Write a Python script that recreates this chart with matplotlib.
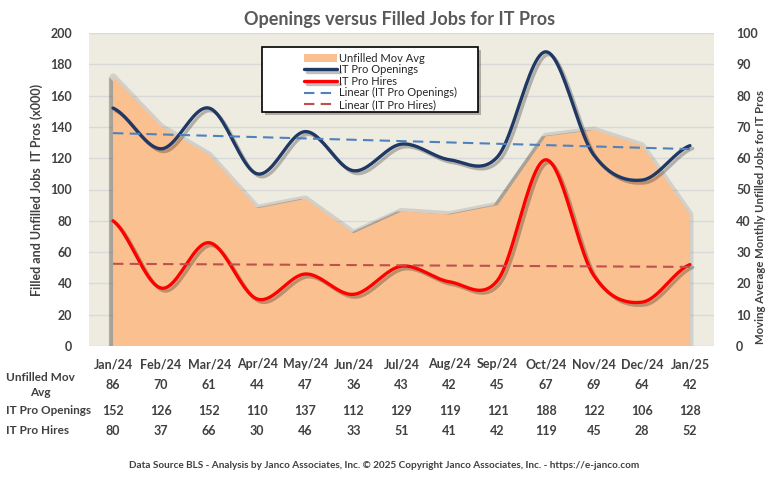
import matplotlib
matplotlib.use("Agg")
import matplotlib.pyplot as plt
import matplotlib.patheffects as pe
from matplotlib.patches import Rectangle
import numpy as np

months = ["Jan/24", "Feb/24", "Mar/24", "Apr/24", "May/24", "Jun/24", "Jul/24",
          "Aug/24", "Sep/24", "Oct/24", "Nov/24", "Dec/24", "Jan/25"]
unfilled = [86, 70, 61, 44, 47, 36, 43, 42, 45, 67, 69, 64, 42]
openings = [152, 126, 152, 110, 137, 112, 129, 119, 121, 188, 122, 106, 128]
hires = [80, 37, 66, 30, 46, 33, 51, 41, 42, 119, 45, 28, 52]

plt.rcParams['font.family'] = ['Lato', 'DejaVu Sans']
TXT = '#404040'


def smooth(y, steps=24):
    # catmull-rom curve through the points, like excel's "smoothed line"
    y = np.asarray(y, float)
    n = len(y)
    xs, ys = [], []
    for i in range(n - 1):
        p0 = y[max(i - 1, 0)]
        p1, p2 = y[i], y[i + 1]
        p3 = y[min(i + 2, n - 1)]
        t = np.linspace(0, 1, steps, endpoint=False)
        v = 0.5 * ((2 * p1) + (-p0 + p2) * t + (2 * p0 - 5 * p1 + 4 * p2 - p3) * t ** 2
                   + (-p0 + 3 * p1 - 3 * p2 + p3) * t ** 3)
        xs.extend(i + t)
        ys.extend(v)
    xs.append(n - 1)
    ys.append(y[-1])
    return np.array(xs), np.array(ys)


fig = plt.figure(figsize=(7.69, 4.8), dpi=100)
ax2 = fig.add_axes([89 / 769, 1 - 346 / 480, 625 / 769, 313 / 480])
ax = ax2.twinx()
# left axis on top so lines sit over the area
ax.set_zorder(ax2.get_zorder() + 1)
ax.patch.set_visible(False)
ax.yaxis.tick_left()
ax.yaxis.set_label_position("left")
ax2.yaxis.tick_right()
ax2.yaxis.set_label_position("right")

x = np.arange(len(months))
ax2.set_facecolor('#EEECE1')
ax2.set_ylim(0, 100)
ax2.set_yticks(range(0, 101, 10))
ax2.grid(axis='y', color='#D9D9D9', lw=1)
ax2.set_axisbelow(True)
area = ax2.fill_between(x, unfilled, color='#FAC090', lw=0, zorder=2,
                        label='Unfilled Mov Avg')
area.set_path_effects([pe.Stroke(linewidth=5, foreground='#808080', alpha=0.25),
                       pe.SimplePatchShadow(offset=(-3, 0), alpha=0.3),
                       pe.Normal()])

ax.set_ylim(0, 200)
ax.set_yticks(range(0, 201, 20))
sh = [pe.SimpleLineShadow(offset=(2, -2), alpha=0.25, shadow_color='k'), pe.Normal()]
xo, yo = smooth(openings)
ax.plot(xo, yo, color='#1F3864', lw=2.4, label='IT Pro Openings', path_effects=sh,
        solid_capstyle='round')
xh, yh = smooth(hires)
ax.plot(xh, yh, color='#FF0000', lw=2.4, label='IT Pro Hires', path_effects=sh,
        solid_capstyle='round')
bo = np.polyfit(x, openings, 1)
ax.plot(x, np.polyval(bo, x), color='#4F81BD', lw=1.5, ls=(0, (5, 3)),
        label='Linear (IT Pro Openings)')
bh = np.polyfit(x, hires, 1)
ax.plot(x, np.polyval(bh, x), color='#C0504D', lw=1.5, ls=(0, (5, 3)),
        label='Linear (IT Pro Hires)')

ax.set_xlim(-0.5, len(months) - 0.5)
ax.set_xticks(x)
ax2.set_xticks(x)
ax2.set_xticklabels(months, fontsize=9, color=TXT, fontweight='bold')
ax2.tick_params(axis='x', length=0, pad=9)
for a in (ax, ax2):
    for s in a.spines.values():
        s.set_visible(False)
    a.tick_params(axis='y', length=0, labelsize=9, labelcolor=TXT)
    for lab in a.get_yticklabels():
        lab.set_fontweight('bold')
ax.tick_params(axis='y', pad=12)
ax2.tick_params(axis='y', pad=16)

ax.set_ylabel('Filled and Unfilled Jobs  IT Pros (x000)', fontsize=9, fontweight='bold',
              color=TXT)
ax.yaxis.set_label_coords((43 - 89) / 625, 0.5)
ax2.set_ylabel('Moving Average Monthly Unfilled Jobs for IT Pros', fontsize=8.2,
               fontweight='bold', color=TXT)
ax2.yaxis.set_label_coords((755 - 89) / 625, (346 - 217) / 313)

fig.text(0.52, 1 - 20 / 480, 'Openings versus Filled Jobs for IT Pros', ha='center',
         va='center', fontsize=13, fontweight='bold', color='#595959')

# legend box drawn by hand so the entries sit centred like excel's
box = Rectangle((262 / 769, 1 - 112 / 480), 216 / 769, 65 / 480, transform=fig.transFigure,
                facecolor='white', edgecolor='black', lw=1.2, zorder=5)
box.set_path_effects([pe.SimplePatchShadow(offset=(2, -2), alpha=0.4), pe.Normal()])
fig.add_artist(box)
h2, l2 = ax2.get_legend_handles_labels()
h1, l1 = ax.get_legend_handles_labels()
leg = fig.legend(h2 + h1, l2 + l1, loc='upper left', bbox_to_anchor=(296 / 769, 1 - 45 / 480),
                 fontsize=8, frameon=False, handlelength=3.0,
                 labelspacing=0.05, borderpad=0.2, handletextpad=0.2)
leg.set_zorder(6)
for t in leg.get_texts():
    t.set_color('#262626')

# data table under the chart
tr = ax2.get_xaxis_transform()
rows = [("Unfilled Mov\nAvg", unfilled, 385), ("IT Pro Openings", openings, 411),
        ("IT Pro Hires", hires, 431)]
for name, vals, ypx in rows:
    yf = (346 - ypx) / 313
    fig.text(6 / 769, 1 - ypx / 480, name, ha='left', va='center', fontsize=8.5,
             fontweight='bold', color=TXT, linespacing=1.35, multialignment='center')
    for xi, v in zip(x, vals):
        ax2.text(xi, yf, str(v), transform=tr, ha='center', va='center', fontsize=9,
                 fontweight='bold', color=TXT)

fig.text(0.5, 1 - 466 / 480,
         'Data Source BLS - Analysis by Janco Associates, Inc. \u00a9 2025 Copyright Janco Associates, Inc. - https://e-janco.com',
         ha='center', va='center', fontsize=7.2, fontweight='bold', color=TXT)

fig.savefig('out.png', dpi=100)
